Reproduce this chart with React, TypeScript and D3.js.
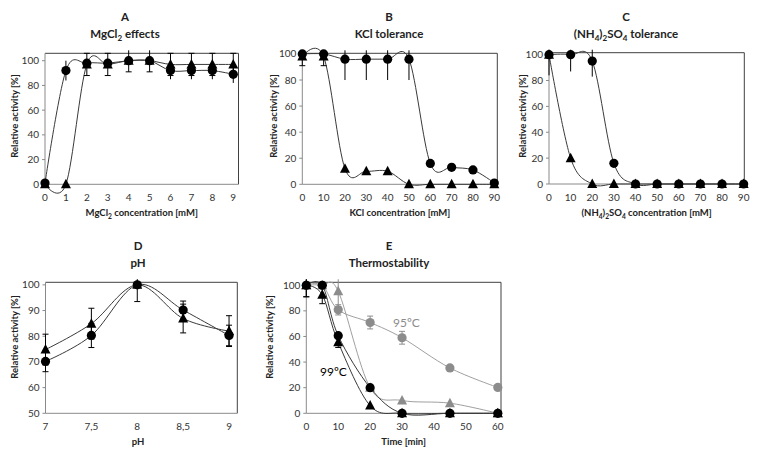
import React from "react";
import * as d3 from "d3";

// ---------- DATA ----------
const mgX = [0, 1, 2, 3, 4, 5, 6, 7, 8, 9];
const mgCircle = [1, 92, 98, 98, 100, 100, 92, 92, 92, 89];
const mgCircleErr = [0, 8, 0, 0, 0, 0, 7, 7, 7, 7];
const mgTriangle = [0, 0, 97, 97, 100, 100, 97, 97, 97, 97];
const mgTriangleErr = [0, 0, 9, 9, 9, 9, 9, 9, 9, 9];
const mgXTicks = [0, 1, 2, 3, 4, 5, 6, 7, 8, 9];

const kclX = [0, 10, 20, 30, 40, 50, 60, 70, 80, 90];
const kclCircle = [100, 100, 96, 96, 96, 96, 16, 13, 11, 1];
const kclCircleErr = [0, 0, 16, 16, 16, 16, 0, 0, 0, 0];
const kclTriangle = [98, 98, 12, 10, 10, 0, 0, 0, 0, 0];
const kclTriangleErr = [7, 7, 0, 0, 0, 0, 0, 0, 0, 0];

const nhX = [0, 10, 20, 30, 40, 50, 60, 70, 80, 90];
const nhCircle = [100, 100, 95, 16, 0, 0, 0, 0, 0, 0];
const nhCircleErr = [0, 13, 12, 0, 0, 0, 0, 0, 0, 0];
const nhTriangle = [100, 20, 0, 0, 0, 0, 0, 0, 0, 0];
const nhTriangleErr = [16, 0, 0, 0, 0, 0, 0, 0, 0, 0];
const concTicks = [0, 10, 20, 30, 40, 50, 60, 70, 80, 90];

const phX = [7, 7.5, 8, 8.5, 9];
const phCircle = [70.2, 80.3, 100, 90.2, 80.3];
const phCircleErr = [4, 4.7, 6.5, 3.5, 4];
const phTriangle = [74.8, 84.9, 100, 86.9, 82];
const phTriangleErr = [6, 6, 0, 5.6, 6];
const phXTicks = [7, 7.5, 8, 8.5, 9];
const phXTickLabels = ["7", "7,5", "8", "8,5", "9"];
const phYTicks = [50, 60, 70, 80, 90, 100];

const thX = [0, 5, 10, 20, 30, 45, 60];
const th99Circle = [100, 100, 60.6, 20, 0, 0, 0];
const th99CircleErr = [9, 0, 0, 0, 0, 0, 0];
const th99Triangle = [100, 92.6, 55.4, 6, 0, 0, 0];
const th99TriangleErr = [9, 7, 4, 0, 0, 0, 0];
const th95Circle = [100, 100, 80.8, 70.9, 59, 35.4, 20.2];
const th95CircleErr = [0, 0, 4, 5, 5, 0, 0];
const th95Triangle = [100, 100, 95.3, 20, 10, 7.9, 0];
const th95TriangleErr = [0, 0, 12, 0, 0, 0, 0];
const thXTicks = [0, 10, 20, 30, 40, 50, 60];

const pctTicks = [0, 20, 40, 60, 80, 100];

// ---------- STYLE ----------
const FONT = "Lato, 'Liberation Sans', sans-serif";
const BLACK = "#000000";
const BLACK_LINE = "#3a3a3a";
const GRAY = "#8c8c8c";
const GRAY_LINE = "#a0a0a0";
const AXIS = "#8a8a8a";
const BORDER = "#404040";

type Series = {
  x: number[];
  y: number[];
  err: number[];
  shape: "circle" | "triangle";
  color: string;
  lineColor: string;
  caps: boolean;
};

type PanelProps = {
  box: { left: number; right: number; top: number; bottom: number };
  xDomain: [number, number];
  yDomain: [number, number];
  xTicks: number[];
  xTickLabels?: string[];
  yTicks: number[];
  series: Series[];
  xTitle: React.ReactNode;
  xTitleX?: number;
  yTitleX: number;
  yTitleY: number;
};

const curve = d3.curveCardinal.tension(0);

function Panel(p: PanelProps) {
  const { box } = p;
  const x = d3.scaleLinear().domain(p.xDomain).range([box.left, box.right]);
  const y = d3.scaleLinear().domain(p.yDomain).range([box.bottom, box.top]);
  const line = d3
    .line<[number, number]>()
    .x((d) => x(d[0]))
    .y((d) => y(d[1]))
    .curve(curve);
  const cx = (box.left + box.right) / 2;
  return (
    <g>
      {/* box */}
      <line x1={box.left} x2={box.right} y1={box.top} y2={box.top} stroke={BORDER} strokeWidth={1} />
      <line x1={box.right} x2={box.right} y1={box.top} y2={box.bottom} stroke={BORDER} strokeWidth={1} />
      <line x1={box.left} x2={box.left} y1={box.top} y2={box.bottom} stroke={AXIS} strokeWidth={1} />
      <line x1={box.left} x2={box.right} y1={box.bottom} y2={box.bottom} stroke={AXIS} strokeWidth={1} />
      {/* y ticks */}
      {p.yTicks.map((t) => (
        <g key={"y" + t}>
          <line x1={box.left - 3} x2={box.left} y1={y(t)} y2={y(t)} stroke={AXIS} />
          <text x={box.left - 6} y={y(t) + 3.5} textAnchor="end" fontSize={10} fill="#333" fontFamily={FONT}>
            {t}
          </text>
        </g>
      ))}
      {/* x ticks */}
      {p.xTicks.map((t, i) => (
        <g key={"x" + t}>
          <text x={x(t)} y={box.bottom + 17} textAnchor="middle" fontSize={10} fill="#333" fontFamily={FONT}>
            {p.xTickLabels ? p.xTickLabels[i] : t}
          </text>
        </g>
      ))}
      {/* series */}
      {p.series.map((s, si) => {
        const pts: [number, number][] = s.x.map((xv, i) => [xv, s.y[i]]);
        return (
          <g key={si}>
            <path d={line(pts) || ""} fill="none" stroke={s.lineColor} strokeWidth={1} />
            {s.x.map((xv, i) =>
              s.err[i] > 0 ? (
                <g key={"e" + i}>
                  <line
                    x1={x(xv)}
                    x2={x(xv)}
                    y1={Math.max(y(s.y[i] + s.err[i]), box.top - 3)}
                    y2={y(s.y[i] - s.err[i])}
                    stroke={s.color}
                    strokeWidth={1}
                  />
                  {s.caps && (
                    <>
                      <line x1={x(xv) - 3} x2={x(xv) + 3} y1={y(s.y[i] - s.err[i])} y2={y(s.y[i] - s.err[i])} stroke={s.color} />
                      {y(s.y[i] + s.err[i]) >= box.top - 3 && (
                        <line x1={x(xv) - 3} x2={x(xv) + 3} y1={y(s.y[i] + s.err[i])} y2={y(s.y[i] + s.err[i])} stroke={s.color} />
                      )}
                    </>
                  )}
                </g>
              ) : null
            )}
            {s.x.map((xv, i) => {
              const px = x(xv);
              const py = y(s.y[i]);
              return s.shape === "circle" ? (
                <circle key={"m" + i} cx={px} cy={py} r={4.6} fill={s.color} />
              ) : (
                <path
                  key={"m" + i}
                  d={`M${px},${py - 5.5}L${px + 5},${py + 4}L${px - 5},${py + 4}Z`}
                  fill={s.color}
                />
              );
            })}
          </g>
        );
      })}
      {/* axis titles */}
      <text
        x={p.xTitleX ?? cx}
        y={box.bottom + 32}
        textAnchor="middle"
        fontSize={9.5}
        fontWeight="bold"
        fill="#222"
        fontFamily={FONT}
      >
        {p.xTitle}
      </text>
      <text
        transform={`translate(${p.yTitleX},${p.yTitleY}) rotate(-90)`}
        textAnchor="middle"
        fontSize={9.5}
        fontWeight="bold"
        fill="#222"
        fontFamily={FONT}
      >
        Relative activity [%]
      </text>
    </g>
  );
}

function Title({ x, y, letter, children }: { x: number; y: number; letter: string; children: React.ReactNode }) {
  return (
    <g fontFamily={FONT} fontWeight="bold" fill="#222" textAnchor="middle">
      <text x={x} y={y} fontSize={11.5}>
        {letter}
      </text>
      <text x={x} y={y + 17} fontSize={11.5}>
        {children}
      </text>
    </g>
  );
}

const sub = (t: string) => (
  <tspan fontSize="70%" dy={3}>
    {t}
  </tspan>
);
const up = () => <tspan dy={-3}>{""}</tspan>;

export default function App() {
  const blk = (x: number[], y: number[], err: number[], shape: "circle" | "triangle", caps: boolean): Series => ({
    x,
    y,
    err,
    shape,
    color: BLACK,
    lineColor: BLACK_LINE,
    caps,
  });
  const gry = (x: number[], y: number[], err: number[], shape: "circle" | "triangle", caps: boolean): Series => ({
    x,
    y,
    err,
    shape,
    color: GRAY,
    lineColor: GRAY_LINE,
    caps,
  });
  return (
    <svg width={760} height={459} style={{ position: "absolute", left: 0, top: 0, background: "#fff" }}>
      <rect width={760} height={459} fill="#fff" />
      <Title x={125} y={21} letter="A">
        MgCl{sub("2")}
        <tspan dy={-3}> effects</tspan>
      </Title>
      <Panel
        box={{ left: 45, right: 238.5, top: 53.3, bottom: 184.3 }}
        xDomain={[0, 9.25]}
        yDomain={[0, 106]}
        xTicks={mgXTicks}
        yTicks={pctTicks}
        series={[
          blk(mgX, mgTriangle, mgTriangleErr, "triangle", true),
          blk(mgX, mgCircle, mgCircleErr, "circle", false),
        ]}
        xTitle={
          <>
            MgCl{sub("2")}
            <tspan dy={-3}> concentration [mM]</tspan>
          </>
        }
        yTitleX={18}
        yTitleY={116}
      />
      <Title x={389} y={21} letter="B">
        KCl tolerance
      </Title>
      <Panel
        box={{ left: 302.3, right: 497.3, top: 53.3, bottom: 184.3 }}
        xDomain={[0, 91.4]}
        yDomain={[0, 100.5]}
        xTicks={concTicks}
        yTicks={pctTicks}
        series={[
          blk(kclX, kclTriangle, kclTriangleErr, "triangle", true),
          blk(kclX, kclCircle, kclCircleErr, "circle", false),
        ]}
        xTitle="KCl concentration [mM]"
        yTitleX={277}
        yTitleY={116}
      />
      <Title x={626} y={21} letter="C">
        (NH{sub("4")}
        <tspan dy={-3}>)</tspan>
        {sub("2")}
        <tspan dy={-3}>SO</tspan>
        {sub("4")}
        <tspan dy={-3}> tolerance</tspan>
      </Title>
      <Panel
        box={{ left: 549, right: 744.3, top: 52.7, bottom: 184 }}
        xDomain={[0, 90.3]}
        yDomain={[0, 101.5]}
        xTicks={concTicks}
        yTicks={pctTicks}
        series={[
          blk(nhX, nhTriangle, nhTriangleErr, "triangle", false),
          blk(nhX, nhCircle, nhCircleErr, "circle", false),
        ]}
        xTitle={
          <>
            (NH{sub("4")}
            <tspan dy={-3}>)</tspan>
            {sub("2")}
            <tspan dy={-3}>SO</tspan>
            {sub("4")}
            <tspan dy={-3}> concentration [mM]</tspan>
          </>
        }
        yTitleX={526}
        yTitleY={116}
      />
      <Title x={138} y={250} letter="D">
        pH
      </Title>
      <Panel
        box={{ left: 45.5, right: 237.3, top: 282.3, bottom: 413.3 }}
        xDomain={[7, 9.09]}
        yDomain={[50, 101]}
        xTicks={phXTicks}
        xTickLabels={phXTickLabels}
        yTicks={phYTicks}
        series={[
          blk(phX, phTriangle, phTriangleErr, "triangle", true),
          blk(phX, phCircle, phCircleErr, "circle", true),
        ]}
        xTitle="pH"
        xTitleX={138}
        yTitleX={18}
        yTitleY={337}
      />
      <Title x={389} y={250} letter="E">
        Thermostability
      </Title>
      <Panel
        box={{ left: 306.3, right: 501, top: 282.3, bottom: 413.3 }}
        xDomain={[0, 61]}
        yDomain={[0, 102.3]}
        xTicks={thXTicks}
        yTicks={pctTicks}
        series={[
          gry(thX, th95Circle, th95CircleErr, "circle", true),
          gry(thX, th95Triangle, th95TriangleErr, "triangle", true),
          blk(thX, th99Triangle, th99TriangleErr, "triangle", true),
          blk(thX, th99Circle, th99CircleErr, "circle", true),
        ]}
        xTitle="Time [min]"
        yTitleX={273}
        yTitleY={337}
      />
      <text x={393} y={327} fontSize={12} fill={GRAY} fontFamily={FONT}>
        95ºC
      </text>
      <text x={320} y={376} fontSize={12} fill={BLACK} fontFamily={FONT}>
        99ºC
      </text>
    </svg>
  );
}
